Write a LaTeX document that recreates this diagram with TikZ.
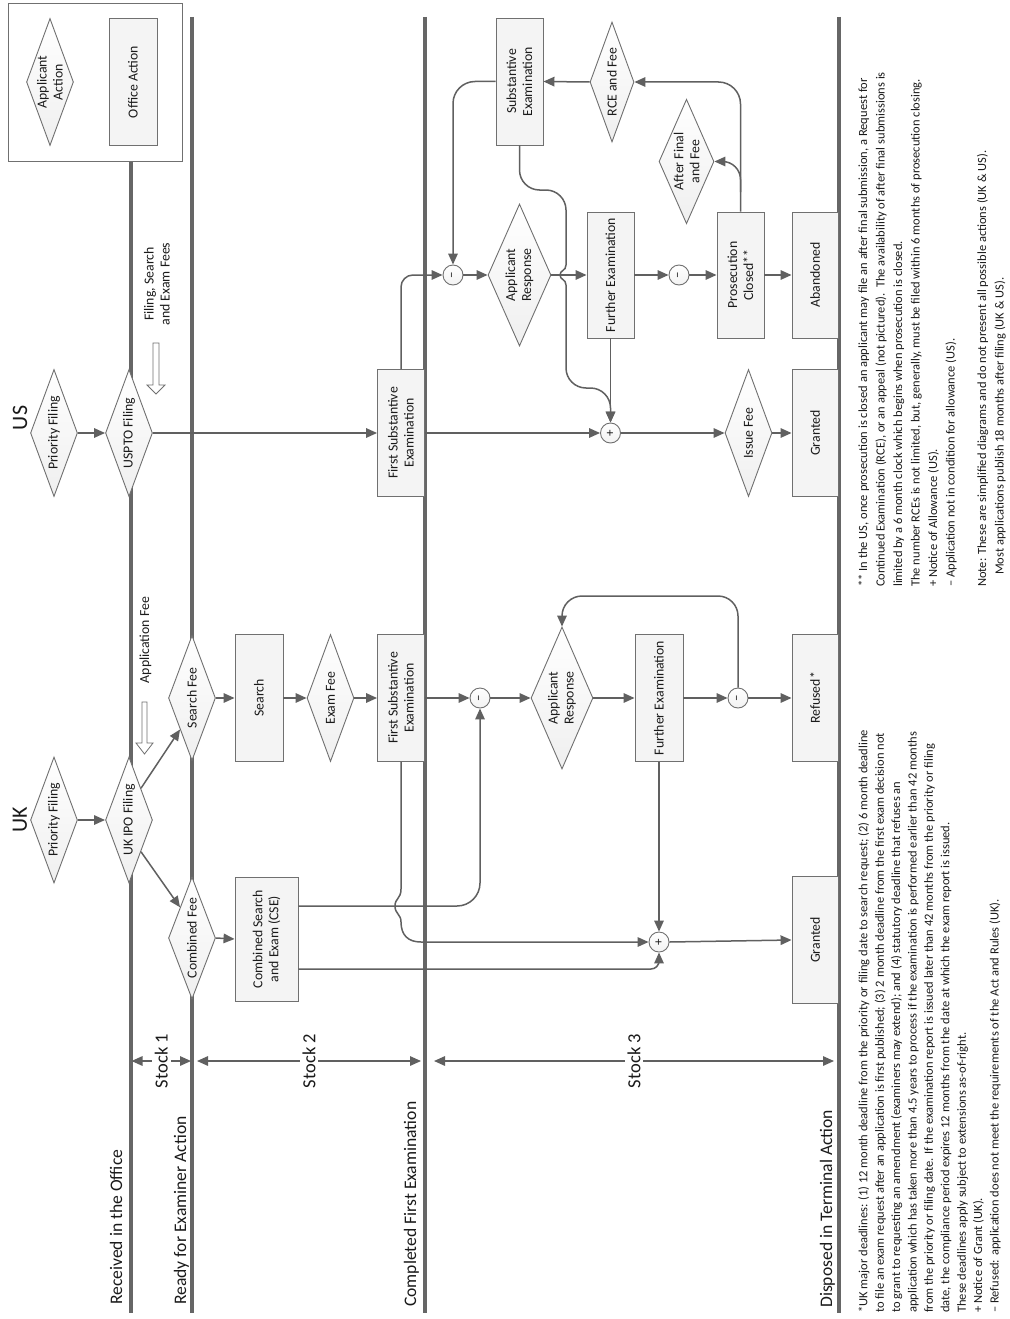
\documentclass[tikz,border=0pt]{standalone}
\usepackage{fontspec}
\setmainfont{Carlito}
\usepackage{graphicx}
\usetikzlibrary{shapes.geometric,arrows.meta}
\definecolor{lncol}{HTML}{606060}
\definecolor{stgcol}{HTML}{666666}
\definecolor{bdcol}{HTML}{707070}
\definecolor{txcol}{HTML}{1A1A1A}
\definecolor{boxfill}{HTML}{F4F4F4}
\definecolor{shd}{HTML}{EFEFEF}
\tikzset{
  nf/.style={font=\fontsize{13.8}{16}\selectfont},
  obox/.style 2 args={draw=bdcol, line width=0.9pt, rectangle, rotate=90, fill=boxfill, inner sep=0pt, align=center, nf, text=txcol, minimum width=#1, minimum height=#2},
  adia/.style 2 args={draw=bdcol, line width=0.9pt, diamond, rotate=90, top color=white, bottom color=shd, inner sep=0pt, align=center, nf, text=txcol, minimum width=#1, minimum height=#2, shape aspect=2.6},
  sgn/.style={draw=bdcol, line width=0.9pt, circle, minimum size=20pt, inner sep=0pt, top color=white, bottom color=black!5, text=txcol, font=\fontsize{13}{13}\selectfont},
  con/.style={draw=lncol, line width=1.5pt, -{Triangle[length=11pt,width=9.5pt]}},
  plainln/.style={draw=lncol, line width=1.5pt},
  stockarr/.style={draw=lncol, line width=1.4pt, {Triangle[length=11pt,width=9.5pt]}-{Triangle[length=11pt,width=9.5pt]}},
  stocklbl/.style={rotate=90, fill=white, inner sep=3pt, text=txcol, font=\fontsize{18.5}{20}\selectfont},
  stgline/.style={draw=stgcol, line width=4pt},
  stglbl/.style={rotate=90, anchor=base west, inner sep=0pt, text=txcol, font=\fontsize{17.6}{20}\selectfont},
  feearrow/.style={draw=bdcol, fill=white, line width=0.8pt},
  notetxt/.style={rotate=90, anchor=north west, align=left, inner sep=0pt, text=txcol}
}
\begin{document}
\begin{tikzpicture}[x=1pt,y=-1pt]
\useasboundingbox (0,0) rectangle (1009,1319);
\fill[white] (0,0) rectangle (1009,1319);

% stage lines
\draw[stgline] (131,161) -- (131,1313);
\draw[stgline] (192,17) -- (192,1313);
\draw[stgline] (424.5,17) -- (424.5,1313);
\draw[stgline] (838.5,17) -- (838.5,1313);

% legend
\draw[draw=bdcol, line width=0.9pt] (8,3) rectangle (182,161);
\node[adia={127pt}{47pt}] (legA) at (50,82) {Applicant\\Action};
\node[obox={127pt}{48pt}] (legO) at (133,82) {Office Action};

% stage labels
\node[stglbl] (lRec) at (122,1305) {Received in the Office};
\node[stglbl] (lRdy) at (186,1305) {Ready for Examiner Action};
\node[stglbl] (lCmp) at (416,1307) {Completed First Examination};
\node[stglbl] (lDis) at (832,1308) {Disposed in Terminal Action};

% stock arrows
\draw[stockarr] (131.5,1061) -- (191,1061) node[midway, stocklbl] (st1) {Stock 1};
\draw[stockarr] (197,1061) -- (421,1061) node[midway, stocklbl] (st2) {Stock 2};
\draw[stockarr] (434,1061) -- (834,1061) node[midway, stocklbl] (st3) {Stock 3};

% country labels
\node[rotate=90, text=txcol, font=\fontsize{22}{24}\selectfont] (lUK) at (20,820) {UK};
\node[rotate=90, text=txcol, font=\fontsize{22}{24}\selectfont] (lUS) at (20,418) {US};

% fee arrows and labels
\draw[feearrow] (142,702) -- (147,702) -- (147,743) -- (153,743) -- (144.5,754) -- (136,743) -- (142,743) -- cycle;
\node[rotate=90, nf, text=txcol] (appfee) at (145.5,640) {Application Fee};
\draw[feearrow] (153,343) -- (159,343) -- (159,385) -- (165,385) -- (156,394) -- (147,385) -- (153,385) -- cycle;
\node[rotate=90, nf, text=txcol, align=center] (usfee) at (157,284) {Filing, Search\\and Exam Fees};

% ---------------- UK nodes
\node[adia={126pt}{47pt}] (ukPF) at (54,820) {Priority Filing};
\node[adia={126pt}{47pt}] (ukIPO) at (129,820) {UK IPO Filing};
\node[adia={125pt}{47pt}] (ukSF) at (192,698) {Search Fee};
\node[adia={122pt}{47pt}] (ukCF) at (192,938) {Combined Fee};
\node[obox={127pt}{48pt}] (ukS) at (259,698) {Search};
\node[adia={127pt}{47pt}] (ukEF) at (330.5,698) {Exam Fee};
\node[obox={127pt}{47pt}] (ukFSE) at (401,698) {First Substantive\\Examination};
\node[obox={124pt}{63pt}] (ukCSE) at (266.5,939) {Combined Search\\and Exam (CSE)};
\node[sgn] (ukM1) at (480,698) {\rotatebox{90}{–}};
\node[adia={142pt}{62pt}] (ukAR) at (562,698) {Applicant\\Response};
\node[obox={127pt}{48pt}] (ukFE) at (659,698) {Further Examination};
\node[sgn] (ukM2) at (738,698) {\rotatebox{90}{–}};
\node[obox={127pt}{46pt}] (ukRef) at (815,698) {Refused*};
\node[sgn] (ukP) at (659,942) {\rotatebox{90}{+}};
\node[obox={127pt}{46pt}] (ukG) at (815,940) {Granted};

% ---------------- US nodes
\node[adia={127pt}{47pt}] (usPF) at (54,433) {Priority Filing};
\node[adia={127pt}{47pt}] (usFil) at (129,433) {USPTO Filing};
\node[obox={127pt}{47pt}] (usFSE) at (401,433) {First Substantive\\Examination};
\node[sgn] (usM1) at (453,275) {\rotatebox{90}{–}};
\node[adia={142pt}{63pt}] (usAR) at (519.5,275) {Applicant\\Response};
\node[obox={126pt}{47pt}] (usFE) at (610.5,275) {Further Examination};
\node[sgn] (usM2) at (679,275) {\rotatebox{90}{–}};
\node[obox={126pt}{47pt}] (usPC) at (740.5,275) {Prosecution\\Closed**};
\node[obox={126pt}{46pt}] (usAb) at (815,275) {Abandoned};
\node[sgn] (usP) at (610.5,433) {\rotatebox{90}{+}};
\node[adia={127pt}{47pt}] (usIF) at (748.5,433) {Issue Fee};
\node[obox={127pt}{46pt}] (usG) at (815,433) {Granted};
\node[obox={127pt}{47pt}] (usSE) at (519.5,81.5) {Substantive\\Examination};
\node[adia={120pt}{44pt}] (usRCE) at (612,82) {RCE and Fee};
\node[adia={119pt}{55pt}] (usAF) at (686.5,161.5) {After Final\\and Fee};

% helper coordinates
\coordinate (ukLoop) at (650,596);
\coordinate (ukU) at (480,906);
\coordinate (ukL) at (659,969);
\coordinate (ukJ1) at (401,889);
\coordinate (usBr) at (740.5,192);
\coordinate (usS2) at (566,190);
\coordinate (usJa) at (566,265);
\coordinate (usJb) at (566,285);
\coordinate (usS3) at (566,388);
\coordinate (usS4) at (610.5,388);

% ---------------- UK connectors
\draw[con] (ukPF.south) -- (ukIPO.north);
\draw[con] (ukIPO.south east) -- (ukSF.north west);
\draw[con] (ukIPO.south west) -- (ukCF.north east);
\draw[con] (ukSF.south) -- (ukS.north);
\draw[con] (ukCF.south) -- (ukCSE.north);
\draw[con] (ukS.south) -- (ukEF.north);
\draw[con] (ukEF.south) -- (ukFSE.north);
\draw[con] (ukFSE.south) -- (ukM1.west);
\draw[con] (ukM1.east) -- (ukAR.north);
\draw[con] (ukAR.south) -- (ukFE.north);
\draw[con] (ukFE.south) -- (ukM2.west);
\draw[con] (ukM2.east) -- (ukRef.north);
\draw[con, rounded corners=20pt] (ukM2.north) -- (ukM2.north |- ukLoop) -- (ukAR.east |- ukLoop) -- (ukAR.east);
\draw[con] (ukFE.west) -- (ukP.north);
\draw[con] (ukP.east) -- (ukG.north);
\draw[con, rounded corners=23pt] (ukCSE.south |- ukU) -- (ukU) -- (ukM1.south);
\draw[con, rounded corners=8pt] (ukCSE.south |- ukL) -- (ukL) -- (ukP.south);
\draw[con] (ukFSE.west) -- (ukJ1) .. controls (401,899) and (395,898) .. (395,906) .. controls (395,914) and (401,914) .. (401,922) .. controls (401,935) and (408,942) .. (421,942) -- (ukP.west);

% ---------------- US connectors
\draw[con] (usPF.south) -- (usFil.north);
\draw[con] (usFil.south) -- (usFSE.north);
\draw[con] (usFSE.south) -- (usP.west);
\draw[con, rounded corners=12pt] (usFSE.east) -- (usFSE.east |- usM1.west) -- (usM1.west);
\draw[con] (usM1.east) -- (usAR.north);
\draw[con] (usAR.south) -- (usFE.north);
\draw[con] (usFE.south) -- (usM2.west);
\draw[con] (usM2.east) -- (usPC.north);
\draw[con] (usPC.south) -- (usAb.north);
\draw[con] (usFE.west) -- (usP.north);
\draw[con] (usP.east) -- (usIF.north);
\draw[con] (usIF.south) -- (usG.north);
\draw[con, rounded corners=22pt] (usPC.east) -- (usPC.east |- usRCE.south) -- (usRCE.south);
\draw[con, rounded corners=18pt] (usBr) |- (usAF.south);
\draw[con] (usRCE.north) -- (usSE.south);
\draw[con, rounded corners=22pt] (usSE.north) -- (usSE.north -| usM1.north) -- (usM1.north);
\draw[plainln, rounded corners=20pt] (usSE.west) -- (usSE.west |- usS2) -- (usS2) -- (usJa);
\draw[plainln] (usJa) .. controls (566,271) and (560,270) .. (560,275) .. controls (560,280) and (566,279) .. (usJb);
\draw[con, rounded corners=20pt] (usJb) -- (usS3) -- (usS4) -- (usP.north);

% ---------------- footnotes
\node[notetxt, font=\fontsize{12.5}{16.4}\selectfont] (ukNote) at (858,1313) {*UK major deadlines: (1) 12 month deadline from the priority or filing date to search request; (2) 6 month deadline\\
to file an exam request after an application is first published; (3) 2 month deadline from the first exam decision not\\
to grant to requesting an amendment (examiners may extend); and (4) statutory deadline that refuses an\\
application which has taken more than 4.5 years to process if the examination is performed earlier than 42 months\\
from the priority or filing date. If the examination report is issued later than 42 months from the priority or filing\\
date, the compliance period expires 12 months from the date at which the exam report is issued.\\
These deadlines apply subject to extensions as-of-right.\\
+ Notice of Grant (UK).\\
– Refused: application does not meet the requirements of the Act and Rules (UK).};

\node[notetxt, font=\fontsize{12.5}{17.5}\selectfont] (usNote) at (858,587) {** In the US, once prosecution is closed an applicant may file an after final submission, a Request for\\
Continued Examination (RCE), or an appeal (not pictured).\ \ The availability of after final submissions is\\
limited by a 6 month clock which begins when prosecution is closed.\\
The number RCEs is not limited, but, generally, must be filed within 6 months of prosecution closing.\\
+ Notice of Allowance (US).\\
– Application not in condition for allowance (US).\\[14pt]
Note: These are simplified diagrams and do not present all possible actions (UK \& US).\\
\hspace*{12pt}Most applications publish 18 months after filing (UK \& US).};

\end{tikzpicture}
\end{document}
